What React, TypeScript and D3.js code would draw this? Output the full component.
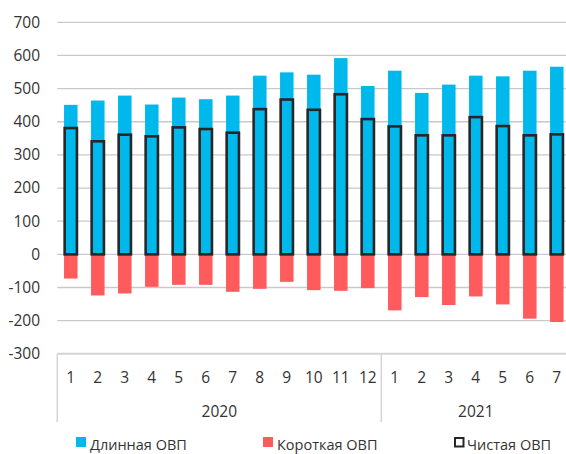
import React from "react";
import * as d3 from "d3";

const months = ["1","2","3","4","5","6","7","8","9","10","11","12","1","2","3","4","5","6","7"];
const years = [
  { label: "2020", start: 0, end: 12 },
  { label: "2021", start: 12, end: 19 },
];
const longValues = [451, 464, 479, 452, 473, 468, 479, 539, 549, 542, 592, 508, 554, 487, 512, 539, 537, 554, 566];
const shortValues = [-73, -124, -118, -98, -92, -92, -113, -104, -83, -108, -110, -102, -169, -129, -153, -127, -151, -194, -204];
const netValues = [381, 341, 361, 356, 383, 378, 367, 438, 467, 436, 483, 408, 386, 359, 359, 414, 387, 359, 362];
const yTicks = [-300, -200, -100, 0, 100, 200, 300, 400, 500, 600, 700];
const legendItems = [
  { label: "Длинная ОВП", type: "long" },
  { label: "Короткая ОВП", type: "short" },
  { label: "Чистая ОВП", type: "net" },
];

const BLUE = "#00B9EC";
const RED = "#FF5A5C";
const DARK = "#262626";
const GRID = "#C9C9C9";
const TEXT = "#333333";
const FONT = "'Open Sans', 'DejaVu Sans', sans-serif";

export default function App() {
  const W = 566, H = 454;
  const left = 57.3, right = 570.3;
  const top = 22.3, bottom = 353.8;
  const idx = months.map((_, i) => i);
  const x = d3.scaleBand<number>().domain(idx).range([left, right]).paddingInner(0.5).paddingOuter(0.25);
  const y = d3.scaleLinear().domain([-300, 700]).range([bottom, top]);
  const bw = x.bandwidth();
  const step = x.step();
  const boxBottom = 422;
  const legendY = 442;
  const legendX = [76, 263, 454];

  return (
    <svg width={W} height={H} style={{ position: "absolute", left: 0, top: 0 }} fontFamily={FONT}>
      <rect x={0} y={0} width={W} height={H} fill="#fff" />
      {yTicks.filter(t => t !== -300).map(t => (
        <line key={t} x1={left} x2={right} y1={y(t)} y2={y(t)} stroke={GRID} strokeWidth={1.3} />
      ))}
      {yTicks.map(t => (
        <text key={t} x={40} y={y(t)} dy="0.35em" textAnchor="end" fontSize={15.5} fill={TEXT}>{t}</text>
      ))}
      {longValues.map((v, i) => (
        <rect key={"l" + i} x={x(i)!} y={y(v)} width={bw} height={y(0) - y(v)} fill={BLUE} />
      ))}
      {shortValues.map((v, i) => (
        <rect key={"s" + i} x={x(i)!} y={y(0)} width={bw} height={y(v) - y(0)} fill={RED} />
      ))}
      {netValues.map((v, i) => (
        <rect key={"n" + i} x={x(i)! + 0.6} y={y(v)} width={bw - 1.2} height={y(0) - y(v)} fill="none" stroke={DARK} strokeWidth={2.6} />
      ))}
      {/* category axis box */}
      <line x1={left} x2={right} y1={bottom} y2={bottom} stroke="#D4D4D4" strokeWidth={2} />
      <line x1={left} x2={left} y1={bottom} y2={boxBottom} stroke="#D4D4D4" strokeWidth={1.5} />
      {years.map(yr => (
        <line key={"sep" + yr.label} x1={left + yr.end * step} x2={left + yr.end * step} y1={bottom} y2={boxBottom} stroke="#D4D4D4" strokeWidth={1.5} />
      ))}
      {months.map((m, i) => (
        <text key={"m" + i} x={x(i)! + bw / 2} y={378} dy="0.35em" textAnchor="middle" fontSize={15.5} fill={TEXT}>{m}</text>
      ))}
      {years.map(yr => (
        <text key={yr.label} x={left + (yr.start + yr.end) / 2 * step} y={412} dy="0.35em" textAnchor="middle" fontSize={15.5} fill={TEXT}>{yr.label}</text>
      ))}
      {legendItems.map((it, i) => (
        <g key={it.type} transform={`translate(${legendX[i]},${legendY})`}>
          {it.type === "net" ? (
            <rect x={1} y={-4} width={8.5} height={8.5} fill="#fff" stroke={DARK} strokeWidth={2} />
          ) : (
            <rect x={0} y={-5} width={10} height={10} fill={it.type === "long" ? BLUE : RED} />
          )}
          <text x={it.type === "net" ? 13 : 14} y={2.5} dy="0.35em" fontSize={14.5} fill={TEXT}>{it.label}</text>
        </g>
      ))}
    </svg>
  );
}
